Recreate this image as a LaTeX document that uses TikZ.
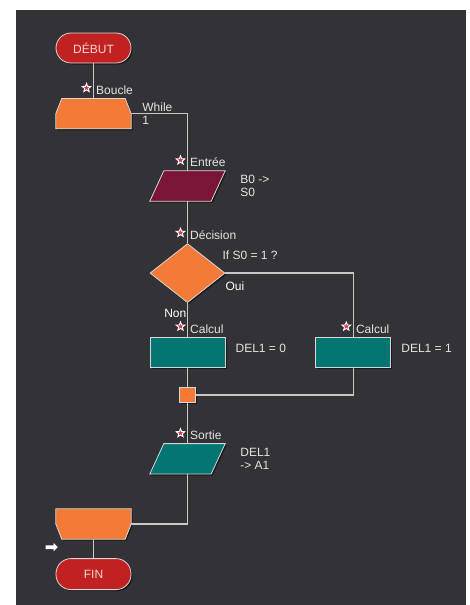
\documentclass[tikz,border=0pt]{standalone}
\usepackage{fontspec}
\setmainfont{Liberation Sans}
\usepackage{xcolor}
\usetikzlibrary{positioning,shapes.geometric,shapes.arrows,calc,shadows}

\definecolor{panel}{RGB}{51,50,55}
\definecolor{flame}{RGB}{244,122,56}
\definecolor{termred}{RGB}{194,33,33}
\definecolor{termtext}{RGB}{245,215,215}
\definecolor{wine}{RGB}{123,21,55}
\definecolor{procteal}{RGB}{3,117,115}
\definecolor{wire}{RGB}{200,200,200}
\definecolor{rim}{RGB}{215,215,215}
\definecolor{tagtext}{RGB}{228,228,228}
\definecolor{pinred}{RGB}{232,52,72}

\begin{document}
\begin{tikzpicture}[x=1pt,y=1pt,
  font=\fontsize{12}{13.5}\selectfont,
  blk/.style={draw=rim,line width=.8pt,inner sep=0pt,minimum width=75pt,minimum height=30pt,
    drop shadow={shadow xshift=1.5pt,shadow yshift=-1.5pt,fill=black,opacity=.5}},
  term/.style={blk,rectangle,rounded corners=15pt,fill=termred,text=termtext},
  procbox/.style={blk,rectangle,fill=procteal},
  decbox/.style={blk,diamond,minimum height=59pt,fill=flame},
  frame/.style={rectangle,inner sep=0pt,minimum width=75pt,minimum height=30pt},
  outline/.style={draw=rim,line width=.8pt,
    drop shadow={shadow xshift=1.5pt,shadow yshift=-1.5pt,fill=black,opacity=.5}},
  link/.style={draw=wire,line width=1.6pt},
  tag/.style={text=tagtext,inner sep=0pt,align=left},
  pin/.style={star,star points=5,star point ratio=2.3,minimum size=9pt,inner sep=0pt,fill=pinred,draw=white,line width=.9pt}]

% dark canvas
\path[use as bounding box] (0,0) rectangle (470,-605);
\fill[panel] (16,-10) rectangle (466,-605);

% main column
\node[term] (debut) at (93.5,-48) {DÉBUT};
\node[frame,below=35pt of debut] (boucle) {};
\node[frame] (entree) at (187.5,-186) {};
\node[decbox,below=42pt of entree] (decision) {};
\node[procbox,below=34pt of decision] (calcA) {};
\node[procbox,right=90pt of calcA] (calcB) {};
\node[blk,rectangle,fill=flame,minimum width=16pt,minimum height=15pt,below=19pt of calcA] (junction) {};
\node[frame,below=41pt of junction] (sortie) {};
\node[frame] (endloop) at (93.5,-524) {};
\node[term,below=19pt of endloop,minimum height=31pt] (fin) {FIN};

% loop start / loop end outlines
\filldraw[outline,fill=flame] ($(boucle.north west)+(6,0)$) -- ($(boucle.north east)+(-6,0)$) -- (boucle.east)
  -- (boucle.south east) -- (boucle.south west) -- (boucle.west) -- cycle;
\filldraw[outline,fill=flame] (endloop.north west) -- (endloop.north east) -- (endloop.east)
  -- ($(endloop.south east)+(-6,0)$) -- ($(endloop.south west)+(6,0)$) -- (endloop.west) -- cycle;
% input / output parallelograms
\filldraw[outline,fill=wine] ($(entree.north west)+(14,0)$) -- (entree.north east)
  -- ($(entree.south east)+(-14,0)$) -- (entree.south west) -- cycle;
\filldraw[outline,fill=procteal] ($(sortie.north west)+(14,0)$) -- (sortie.north east)
  -- ($(sortie.south east)+(-14,0)$) -- (sortie.south west) -- cycle;

% connectors
\draw[link] (debut) -- (boucle);
\draw[link] (boucle) -| (entree);
\draw[link] (entree) -- (decision);
\draw[link] (decision) -- (calcA);
\draw[link] (decision) -| (calcB);
\draw[link] (calcA) -- (junction);
\draw[link] (calcB) |- (junction);
\draw[link] (junction) -- (sortie);
\draw[link] (sortie) |- (endloop);
\draw[link] (endloop) -- (fin);

% block names
\node[pin] (boucle-pin) at ($(boucle.north)+(-7,10.5)$) {};
\node[tag,anchor=west] (boucle-name) at ($(boucle.north)+(2.5,8.5)$) {Boucle};
\node[pin] (entree-pin) at ($(entree.north)+(-7,10.5)$) {};
\node[tag,anchor=west] (entree-name) at ($(entree.north)+(2.5,8.5)$) {Entrée};
\node[pin] (decision-pin) at ($(decision.north)+(-7,10.5)$) {};
\node[tag,anchor=west] (decision-name) at ($(decision.north)+(2.5,8.5)$) {Décision};
\node[pin] (calcA-pin) at ($(calcA.north)+(-7,10.5)$) {};
\node[tag,anchor=west] (calcA-name) at ($(calcA.north)+(2.5,8)$) {Calcul};
\node[pin] (calcB-pin) at ($(calcB.north)+(-7,10.5)$) {};
\node[tag,anchor=west] (calcB-name) at ($(calcB.north)+(2.5,8)$) {Calcul};
\node[pin] (sortie-pin) at ($(sortie.north)+(-7,10.5)$) {};
\node[tag,anchor=west] (sortie-name) at ($(sortie.north)+(2.5,8.5)$) {Sortie};

% block contents
\node[tag,anchor=west] (whilecond) at ($(boucle.east)+(11,0)$) {While\\1};
\node[tag,right=15pt of entree] (entree-text) {B0 ->\\S0};
\node[tag,anchor=west] (question) at ($(decision.east)+(-3,18)$) {If S0 = 1 ?};
\node[tag,anchor=west,text=white] (oui) at ($(decision.east)+(0,-13)$) {Oui};
\node[tag,anchor=east,text=white] (non) at ($(decision.south)+(-1,-10.5)$) {Non};
\node[tag,anchor=west] (calcA-text) at ($(calcA.east)+(10,4)$) {DEL1 = 0};
\node[tag,anchor=west] (calcB-text) at ($(calcB.east)+(10,4)$) {DEL1 = 1};
\node[tag,right=15pt of sortie] (sortie-text) {DEL1\\-> A1};

% run cursor
\node[single arrow,fill=white,minimum height=12pt,minimum width=8pt,inner sep=1.5pt,
  single arrow head extend=2pt] (cursor) at ($(endloop.south west)+(-5,-8)$) {};
\end{tikzpicture}
\end{document}
